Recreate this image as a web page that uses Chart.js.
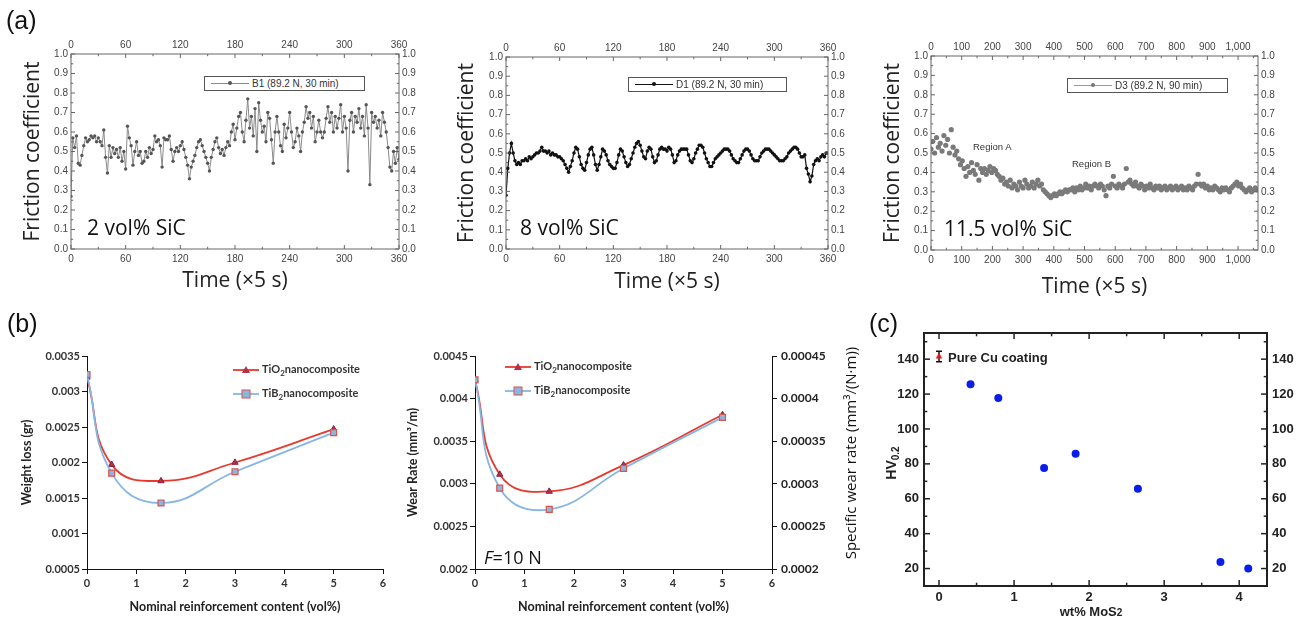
<!DOCTYPE html>
<html>
<head>
<meta charset="utf-8">
<script src="https://cdn.jsdelivr.net/npm/chart.js@4.4.0/dist/chart.umd.min.js"></script>
<style>
  body { margin: 0; background: #fff; }
  #page { position: relative; width: 1305px; height: 624px; overflow: hidden; font-family: "Liberation Sans", Arial, sans-serif; }
  canvas { position: absolute; }
  .txt { position: absolute; white-space: nowrap; }
  .panel { font-size: 25px; color: #111; line-height: 28px; }
  .sic { font-family: "Open Sans", sans-serif; font-size: 21px; color: #111; line-height: 24px; }
  .lg { position: absolute; border: 1px solid #555; box-sizing: border-box; font-size: 10px; color: #333; background: #fff; }
  .lg .ln { position: absolute; left: 6px; top: 6px; width: 38px; height: 1px; }
  .lg .dt { position: absolute; left: 23px; top: 4px; width: 4px; height: 4px; border-radius: 50%; }
  .lg .tx { position: absolute; left: 47px; top: 0; line-height: 13px; }
  .region { font-size: 9.5px; color: #333; }
  .blg { position: absolute; font-family: Lato, sans-serif; font-weight: bold; font-size: 11px; color: #333; white-space: nowrap; line-height: 14px; }
  .blg svg { vertical-align: middle; margin-right: 3px; }
  .blg sub { font-size: 8px; vertical-align: -3px; line-height: 0; }
  .rot { position: absolute; white-space: nowrap; transform: translate(-50%, -50%) rotate(-90deg); }
</style>
</head>
<body>
<div id="page">
  <canvas id="a1" width="420" height="278" style="left:12px;top:25px"></canvas>
  <canvas id="a2" width="415" height="278" style="left:445px;top:25px"></canvas>
  <canvas id="a3" width="432" height="283" style="left:868px;top:25px"></canvas>
  <canvas id="b1" width="385" height="284" style="left:15px;top:340px"></canvas>
  <canvas id="b2" width="455" height="284" style="left:405px;top:340px"></canvas>
  <canvas id="c" width="435" height="304" style="left:870px;top:320px"></canvas>

  <div class="txt panel" style="left:6px;top:6px">(a)</div>
  <div class="txt panel" style="left:7px;top:309px">(b)</div>
  <div class="txt panel" style="left:869px;top:309px">(c)</div>

  <div class="txt sic" style="left:87px;top:215px">2 vol% SiC</div>
  <div class="txt sic" style="left:520px;top:215px">8 vol% SiC</div>
  <div class="txt sic" style="left:944px;top:216px">11.5 vol% SiC</div>

  <div class="lg" style="left:204px;top:76px;width:161px;height:15px">
    <span class="ln" style="background:#888"></span><span class="dt" style="background:#555"></span>
    <span class="tx">B1 (89.2 N, 30 min)</span>
  </div>
  <div class="lg" style="left:628px;top:77px;width:159px;height:15px">
    <span class="ln" style="background:#111"></span><span class="dt" style="background:#111"></span>
    <span class="tx">D1 (89.2 N, 30 min)</span>
  </div>
  <div class="lg" style="left:1067px;top:78px;width:161px;height:15px">
    <span class="ln" style="background:#999"></span><span class="dt" style="background:#777"></span>
    <span class="tx">D3 (89.2 N, 90 min)</span>
  </div>
  <div class="txt region" style="left:973px;top:141px">Region A</div>
  <div class="txt region" style="left:1072px;top:158px">Region B</div>

  <div class="blg" style="left:233px;top:362px"><svg width="26" height="10"><line x1="0" y1="5" x2="26" y2="5" stroke="#e8392f" stroke-width="1.8"/><polygon points="13,1 17,8 9,8" fill="#b33048"/></svg>TiO<sub>2</sub>nanocomposite</div>
  <div class="blg" style="left:233px;top:386px"><svg width="26" height="10"><line x1="0" y1="5" x2="26" y2="5" stroke="#86b6e3" stroke-width="1.8"/><rect x="9" y="1" width="8" height="8" fill="#8db6df" stroke="#d9534f" stroke-width="1"/></svg>TiB<sub>2</sub>nanocomposite</div>
  <div class="blg" style="left:505px;top:359px"><svg width="26" height="10"><line x1="0" y1="5" x2="26" y2="5" stroke="#e8392f" stroke-width="1.8"/><polygon points="13,1 17,8 9,8" fill="#b33048"/></svg>TiO<sub>2</sub>nanocomposite</div>
  <div class="blg" style="left:505px;top:383px"><svg width="26" height="10"><line x1="0" y1="5" x2="26" y2="5" stroke="#86b6e3" stroke-width="1.8"/><rect x="9" y="1" width="8" height="8" fill="#8db6df" stroke="#d9534f" stroke-width="1"/></svg>TiB<sub>2</sub>nanocomposite</div>
  <div class="txt" style="left:484px;top:545px;font-family:'Open Sans';font-size:18px;color:#111;line-height:24px"><i>F</i>=10 N</div>
  <div class="rot" style="left:850px;top:453px;font-family:'Open Sans';font-size:15px;color:#111">Specific wear rate (mm³/(N·m))</div>

  <div class="txt" style="left:948px;top:350px;font-weight:bold;font-size:13px;color:#222">Pure Cu coating</div>
  <div class="rot" style="left:892px;top:463px;font-weight:bold;font-size:14px;color:#222">HV<sub style="font-size:10px">0.2</sub></div>
  <div class="txt" style="left:1091px;top:604px;transform:translateX(-50%);font-weight:bold;font-size:13px;color:#222">wt% MoS<span style="font-size:10px">2</span></div>
</div>

<script>
// (a) friction coefficient traces, one value every step along Time (x5 s)
const a1Step = 2;
const a1Friction = [
  0.27, 0.57, 0.52, 0.58, 0.44, 0.43, 0.48, 0.53, 0.57, 0.55,
  0.56, 0.58, 0.57, 0.58, 0.55, 0.57, 0.55, 0.53, 0.61, 0.47,
  0.39, 0.53, 0.47, 0.52, 0.49, 0.51, 0.47, 0.52, 0.45, 0.50,
  0.41, 0.63, 0.57, 0.53, 0.43, 0.50, 0.55, 0.48, 0.50, 0.44,
  0.45, 0.50, 0.47, 0.52, 0.49, 0.51, 0.58, 0.55, 0.56, 0.53,
  0.42, 0.57, 0.56, 0.56, 0.58, 0.51, 0.45, 0.50, 0.52, 0.50,
  0.53, 0.55, 0.51, 0.47, 0.43, 0.36, 0.42, 0.45, 0.48, 0.52,
  0.55, 0.56, 0.53, 0.50, 0.47, 0.44, 0.40, 0.47, 0.51, 0.55,
  0.57, 0.52, 0.49, 0.51, 0.48, 0.52, 0.55, 0.53, 0.60, 0.64,
  0.56, 0.62, 0.68, 0.70, 0.60, 0.55, 0.66, 0.77, 0.62, 0.68,
  0.58, 0.72, 0.50, 0.75, 0.66, 0.60, 0.63, 0.55, 0.70, 0.67,
  0.56, 0.44, 0.60, 0.68, 0.60, 0.53, 0.50, 0.64, 0.57, 0.62,
  0.70, 0.60, 0.52, 0.55, 0.62, 0.58, 0.50, 0.60, 0.65, 0.73,
  0.67, 0.70, 0.62, 0.68, 0.55, 0.60, 0.66, 0.60, 0.57, 0.60,
  0.67, 0.73, 0.65, 0.70, 0.60, 0.68, 0.62, 0.67, 0.74, 0.60,
  0.68, 0.62, 0.40, 0.66, 0.70, 0.60, 0.68, 0.65, 0.72, 0.62,
  0.68, 0.58, 0.74, 0.62, 0.33, 0.70, 0.65, 0.68, 0.62, 0.66,
  0.58, 0.70, 0.65, 0.60, 0.52, 0.42, 0.40, 0.50, 0.44, 0.52,
  0.46
];
const a2Step = 2;
const a2Friction = [
  0.28, 0.42, 0.50, 0.55, 0.50, 0.46, 0.44, 0.45, 0.44, 0.46,
  0.46, 0.47, 0.46, 0.48, 0.47, 0.48, 0.49, 0.50, 0.50, 0.51,
  0.53, 0.51, 0.51, 0.50, 0.51, 0.49, 0.50, 0.49, 0.49, 0.48,
  0.48, 0.47, 0.46, 0.44, 0.42, 0.40, 0.43, 0.46, 0.50, 0.53,
  0.52, 0.48, 0.44, 0.42, 0.41, 0.45, 0.49, 0.52, 0.53, 0.49,
  0.44, 0.41, 0.44, 0.48, 0.52, 0.51, 0.49, 0.46, 0.44, 0.43,
  0.42, 0.42, 0.45, 0.49, 0.52, 0.51, 0.48, 0.45, 0.43, 0.44,
  0.47, 0.50, 0.53, 0.55, 0.56, 0.54, 0.51, 0.48, 0.47, 0.51,
  0.53, 0.52, 0.48, 0.45, 0.46, 0.49, 0.52, 0.53, 0.52, 0.52,
  0.51, 0.53, 0.52, 0.49, 0.45, 0.46, 0.49, 0.51, 0.52, 0.52,
  0.52, 0.52, 0.49, 0.46, 0.45, 0.47, 0.50, 0.52, 0.54, 0.54,
  0.53, 0.50, 0.47, 0.45, 0.43, 0.43, 0.45, 0.47, 0.48, 0.49,
  0.50, 0.51, 0.52, 0.52, 0.52, 0.51, 0.49, 0.47, 0.46, 0.45,
  0.45, 0.47, 0.49, 0.51, 0.52, 0.52, 0.51, 0.49, 0.47, 0.46,
  0.46, 0.46, 0.48, 0.50, 0.51, 0.52, 0.52, 0.52, 0.51, 0.50,
  0.49, 0.48, 0.47, 0.46, 0.46, 0.46, 0.47, 0.48, 0.50, 0.51,
  0.52, 0.53, 0.53, 0.52, 0.50, 0.48, 0.48, 0.49, 0.42, 0.39,
  0.35, 0.38, 0.44, 0.46, 0.47, 0.46, 0.48, 0.49, 0.48, 0.50,
  0.50
];
const a3Step = 6;
const a3Friction = [
  0.52, 0.56, 0.50, 0.58, 0.53, 0.55, 0.51, 0.59, 0.54, 0.57,
  0.50, 0.62, 0.53, 0.49, 0.51, 0.47, 0.44, 0.46, 0.42, 0.38,
  0.43, 0.40, 0.45, 0.41, 0.39, 0.44, 0.36, 0.42, 0.40, 0.42,
  0.39, 0.41, 0.43, 0.40, 0.42, 0.41, 0.39, 0.38, 0.36, 0.37,
  0.34, 0.35, 0.33, 0.36, 0.32, 0.34, 0.33, 0.31, 0.35, 0.33,
  0.32, 0.36, 0.34, 0.32, 0.33, 0.35, 0.32, 0.34, 0.36, 0.33,
  0.34, 0.31, 0.30, 0.29, 0.28, 0.27, 0.28, 0.29, 0.28, 0.29,
  0.30, 0.29, 0.30, 0.31, 0.30, 0.31, 0.31, 0.32, 0.30, 0.32,
  0.31, 0.33, 0.31, 0.32, 0.34, 0.32, 0.33, 0.31, 0.33, 0.34,
  0.33, 0.32, 0.34, 0.33, 0.31, 0.28, 0.33, 0.32, 0.34, 0.38,
  0.33, 0.32, 0.34, 0.33, 0.32, 0.34, 0.42, 0.35, 0.36, 0.34,
  0.33, 0.35, 0.33, 0.32, 0.34, 0.33, 0.31, 0.33, 0.32, 0.34,
  0.32, 0.31, 0.33, 0.32, 0.33, 0.31, 0.32, 0.33, 0.31, 0.32,
  0.33, 0.31, 0.32, 0.33, 0.31, 0.32, 0.33, 0.31, 0.32, 0.31,
  0.33, 0.32, 0.31, 0.33, 0.34, 0.39, 0.34, 0.33, 0.34, 0.32,
  0.33, 0.31, 0.32, 0.31, 0.33, 0.32, 0.31, 0.30, 0.32, 0.31,
  0.32, 0.31, 0.30, 0.32, 0.33, 0.34, 0.35, 0.33, 0.34, 0.32,
  0.31, 0.30, 0.31, 0.32, 0.30, 0.31, 0.32, 0.31
];
const frictionTicks = [0, 0.1, 0.2, 0.3, 0.4, 0.5, 0.6, 0.7, 0.8, 0.9, 1.0];
const time360Ticks = [0, 60, 120, 180, 240, 300, 360];
const time1065Ticks = [0, 100, 200, 300, 400, 500, 600, 700, 800, 900, 1000];

// (b) wear of nanocomposites
const reinforcement = [0, 0.5, 1.5, 3, 5];
const b1TiO2 = [0.0032, 0.00197, 0.00174, 0.0020, 0.00247];
const b1TiB2 = [0.00324, 0.00185, 0.00143, 0.00187, 0.00242];
const b2TiO2 = [0.00422, 0.00311, 0.00291, 0.00322, 0.00381];
const b2TiB2 = [0.00422, 0.00295, 0.0027, 0.00318, 0.00378];
const volTicks = [0, 1, 2, 3, 4, 5, 6];
const lossTicks = [0.0005, 0.001, 0.0015, 0.002, 0.0025, 0.003, 0.0035];
const rateTicks = [0.002, 0.0025, 0.003, 0.0035, 0.004, 0.0045];
const specTicks = [0.0002, 0.00025, 0.0003, 0.00035, 0.0004, 0.00045];

// (c) hardness vs MoS2 content
const mos2 = [0.42, 0.79, 1.40, 1.82, 2.65, 3.75, 4.12];
const hv = [125.6, 117.8, 77.7, 85.8, 65.8, 23.8, 20];
const cuMos2 = [0];
const cuHv = [141.5];
const cuErr = [3];
const mos2Ticks = [0, 1, 2, 3, 4];
const hvTicks = [20, 40, 60, 80, 100, 120, 140];

function fixedTicks(list) { return s => { s.ticks = list.map(v => ({ value: v })); }; }
function fitW(w) { return s => { s.width = w; }; }
function fitH(h) { return s => { s.height = h; }; }
function toPoints(vals, step) { return vals.map((y, i) => ({ x: i * step, y })); }

// box frame + inward major/minor tick marks
const frameTicks = {
  id: 'frameTicks',
  afterDraw(chart, args, o) {
    const { ctx, chartArea: a } = chart;
    ctx.save();
    ctx.strokeStyle = o.color;
    ctx.lineWidth = o.width;
    ctx.strokeRect(a.left, a.top, a.right - a.left, a.bottom - a.top);
    ctx.lineWidth = o.tickWidth;
    o.sides.forEach(sd => {
      const s = chart.scales[sd.scale];
      const start = Math.ceil((s.min - 1e-9) / sd.minor) * sd.minor;
      for (let k = 0; start + k * sd.minor <= s.max + 1e-9; k++) {
        const v = start + k * sd.minor;
        const r = v / sd.major;
        const len = Math.abs(r - Math.round(r)) < 1e-6 ? o.len : o.len * 0.55;
        const p = s.getPixelForValue(v);
        ctx.beginPath();
        if (sd.side === 'bottom') { ctx.moveTo(p, a.bottom); ctx.lineTo(p, a.bottom - len); }
        else if (sd.side === 'top') { ctx.moveTo(p, a.top); ctx.lineTo(p, a.top + len); }
        else if (sd.side === 'left') { ctx.moveTo(a.left, p); ctx.lineTo(a.left + len, p); }
        else { ctx.moveTo(a.right, p); ctx.lineTo(a.right - len, p); }
        ctx.stroke();
      }
    });
    ctx.restore();
  }
};

const cuErrorBar = {
  id: 'cuErrorBar',
  beforeDatasetsDraw(chart) {
    const { ctx, scales: { x, y } } = chart;
    ctx.save();
    ctx.strokeStyle = '#111';
    ctx.lineWidth = 1.5;
    cuMos2.forEach((m, i) => {
      const px = x.getPixelForValue(m);
      const top = y.getPixelForValue(cuHv[i] + cuErr[i]);
      const bot = y.getPixelForValue(cuHv[i] - cuErr[i]);
      ctx.beginPath();
      ctx.moveTo(px, top); ctx.lineTo(px, bot);
      ctx.moveTo(px - 3, top); ctx.lineTo(px + 3, top);
      ctx.moveTo(px - 3, bot); ctx.lineTo(px + 3, bot);
      ctx.stroke();
    });
    ctx.restore();
  }
};

const noGrid = { display: false, drawTicks: false };
const noBorder = { display: false };

function frictionChart(id, cfg) {
  const tf = { family: 'Liberation Sans', size: 10 };
  const titleFont = { family: 'Open Sans', size: 21 };
  const xTicks = { color: '#444', font: tf, padding: 4, autoSkip: false, maxRotation: 0, callback: v => v.toLocaleString('en-US') };
  const yTicks = { color: '#444', font: tf, padding: 3, autoSkip: false, callback: v => v.toFixed(1) };
  new Chart(document.getElementById(id), {
    type: 'scatter',
    data: {
      datasets: [{
        data: toPoints(cfg.values, cfg.step),
        showLine: cfg.line,
        borderColor: cfg.lineColor,
        borderWidth: cfg.lineWidth,
        pointRadius: cfg.radius,
        pointBackgroundColor: cfg.dotColor,
        pointBorderWidth: 0
      }]
    },
    options: {
      responsive: false,
      animation: false,
      layout: { padding: 0 },
      plugins: {
        legend: { display: false },
        tooltip: { enabled: false },
        frameTicks: {
          color: '#666', width: 1, tickWidth: 1, len: 4,
          sides: [
            { scale: 'x', side: 'bottom', major: cfg.xMajor, minor: cfg.xMajor / 2 },
            { scale: 'x', side: 'top', major: cfg.xMajor, minor: cfg.xMajor / 2 },
            { scale: 'y', side: 'left', major: 0.1, minor: 0.05 },
            { scale: 'y', side: 'right', major: 0.1, minor: 0.05 }
          ]
        }
      },
      scales: {
        x: {
          type: 'linear', position: 'bottom', min: 0, max: cfg.xmax,
          grid: noGrid, border: noBorder, ticks: xTicks,
          afterBuildTicks: fixedTicks(cfg.xTickList), afterFit: fitH(cfg.box[3]),
          title: { display: true, text: 'Time (×5 s)', font: titleFont, color: '#222', padding: { top: 0, bottom: cfg.titlePad[1] } }
        },
        x2: {
          type: 'linear', position: 'top', min: 0, max: cfg.xmax,
          grid: noGrid, border: noBorder, ticks: Object.assign({}, xTicks, { padding: 3 }),
          afterBuildTicks: fixedTicks(cfg.xTickList), afterFit: fitH(cfg.box[2])
        },
        y: {
          type: 'linear', position: 'left', min: 0, max: 1,
          grid: noGrid, border: noBorder, ticks: yTicks,
          afterBuildTicks: fixedTicks(frictionTicks), afterFit: fitW(cfg.box[0]),
          title: { display: true, text: 'Friction coefficient', font: titleFont, color: '#222', padding: { top: cfg.titlePad[0], bottom: 0 } }
        },
        y2: {
          type: 'linear', position: 'right', min: 0, max: 1,
          grid: noGrid, border: noBorder, ticks: yTicks,
          afterBuildTicks: fixedTicks(frictionTicks), afterFit: fitW(cfg.box[1])
        }
      }
    },
    plugins: [frameTicks]
  });
}

frictionChart('a1', {
  values: a1Friction, step: a1Step, line: true, lineColor: '#8a8a8a', lineWidth: 1, radius: 1.7, dotColor: '#555',
  xmax: 360, xTickList: time360Ticks, xMajor: 60, box: [59, 33, 29, 54], titlePad: [8, 9]
});
frictionChart('a2', {
  values: a2Friction, step: a2Step, line: true, lineColor: '#111', lineWidth: 1.2, radius: 1.8, dotColor: '#111',
  xmax: 360, xTickList: time360Ticks, xMajor: 60, box: [61, 32, 32, 54], titlePad: [9, 8]
});
frictionChart('a3', {
  values: a3Friction, step: a3Step, line: false, lineColor: '#777', lineWidth: 0, radius: 2.6, dotColor: '#7a7a7a',
  xmax: 1065, xTickList: time1065Ticks, xMajor: 100, box: [63, 42, 31, 58], titlePad: [12, 8]
});

function wearChart(id, cfg) {
  const tf = { family: 'Lato', size: 11, weight: 'bold' };
  const titleFont = { family: 'Lato', size: 12.5, weight: 'bold' };
  const outGrid = { display: true, drawOnChartArea: false, drawTicks: true, tickLength: 5, color: '#111', lineWidth: 1 };
  const blackBorder = { display: true, color: '#111', width: 1 };
  const scales = {
    x: {
      type: 'linear', position: 'bottom', min: 0, max: 6,
      grid: outGrid, border: blackBorder,
      ticks: { color: '#333', font: tf, padding: 3, autoSkip: false, maxRotation: 0 },
      afterBuildTicks: fixedTicks(volTicks), afterFit: fitH(55),
      title: { display: true, text: 'Nominal reinforcement content (vol%)', font: titleFont, color: '#222', padding: { top: 2, bottom: 10 } }
    },
    y: {
      type: 'linear', position: 'left', min: cfg.yRange[0], max: cfg.yRange[1],
      grid: outGrid, border: blackBorder,
      ticks: { color: '#333', font: tf, padding: 2, autoSkip: false, callback: v => String(+v.toFixed(5)) },
      afterBuildTicks: fixedTicks(cfg.yTickList), afterFit: fitW(cfg.leftW),
      title: { display: true, text: cfg.yTitle, font: titleFont, color: '#222', padding: { top: cfg.yTitlePad, bottom: 0 } }
    }
  };
  if (cfg.y2TickList) {
    scales.y2 = {
      type: 'linear', position: 'right', min: cfg.y2Range[0], max: cfg.y2Range[1],
      grid: outGrid, border: blackBorder,
      ticks: { color: '#222', font: { family: 'Lato', size: 12, weight: 'bold' }, padding: 4, autoSkip: false, callback: v => String(+v.toFixed(5)) },
      afterBuildTicks: fixedTicks(cfg.y2TickList), afterFit: fitW(cfg.rightW)
    };
  }
  new Chart(document.getElementById(id), {
    type: 'scatter',
    data: {
      datasets: [
        {
          label: 'TiB2 nanocomposite',
          data: reinforcement.map((x, i) => ({ x, y: cfg.tib2[i] })),
          showLine: true, tension: 0.45,
          borderColor: '#86b6e3', borderWidth: 1.8,
          pointStyle: 'rect', pointRadius: 4.2,
          pointBackgroundColor: '#8db6df', pointBorderColor: '#d9534f', pointBorderWidth: 1.2
        },
        {
          label: 'TiO2 nanocomposite',
          data: reinforcement.map((x, i) => ({ x, y: cfg.tio2[i] })),
          showLine: true, tension: 0.45,
          borderColor: '#e8392f', borderWidth: 1.8,
          pointStyle: 'triangle', pointRadius: 3.6,
          pointBackgroundColor: '#b33048', pointBorderColor: '#8b2040', pointBorderWidth: 1
        }
      ]
    },
    options: {
      responsive: false,
      animation: false,
      layout: { padding: { top: 16, right: cfg.rightPad, left: 0, bottom: 0 } },
      plugins: { legend: { display: false }, tooltip: { enabled: false } },
      scales
    }
  });
}

wearChart('b1', {
  tio2: b1TiO2, tib2: b1TiB2, yRange: [0.0005, 0.0035], yTickList: lossTicks,
  yTitle: 'Weight loss (gr)', yTitlePad: 4, leftW: 72, rightPad: 17
});
wearChart('b2', {
  tio2: b2TiO2, tib2: b2TiB2, yRange: [0.002, 0.0045], yTickList: rateTicks,
  yTitle: 'Wear Rate (mm³/m)', yTitlePad: 0, leftW: 70, rightPad: 0,
  y2Range: [0.0002, 0.00045], y2TickList: specTicks, rightW: 88
});

// (c)
(function () {
  const tf = { family: 'Liberation Sans', size: 13, weight: 'bold' };
  const hvAxis = pos => ({
    type: 'linear', position: pos, min: 10, max: 155,
    grid: noGrid, border: noBorder,
    ticks: { color: '#222', font: tf, padding: 5, autoSkip: false },
    afterBuildTicks: fixedTicks(hvTicks), afterFit: fitW(pos === 'left' ? 54 : 38)
  });
  new Chart(document.getElementById('c'), {
    type: 'scatter',
    data: {
      datasets: [
        {
          label: 'Pure Cu coating',
          data: cuMos2.map((x, i) => ({ x, y: cuHv[i] })),
          pointStyle: 'triangle', pointRadius: 3.8,
          pointBackgroundColor: '#e41a1c', pointBorderColor: '#e41a1c', pointBorderWidth: 0
        },
        {
          label: 'Cu-MoS2',
          data: mos2.map((x, i) => ({ x, y: hv[i] })),
          pointRadius: 4,
          pointBackgroundColor: '#0b1ee8', pointBorderColor: '#0b1ee8', pointBorderWidth: 0
        }
      ]
    },
    options: {
      responsive: false,
      animation: false,
      layout: { padding: { top: 13, left: 0, right: 0, bottom: 0 } },
      plugins: {
        legend: { display: false },
        tooltip: { enabled: false },
        frameTicks: {
          color: '#222', width: 2, tickWidth: 1.5, len: 6,
          sides: [
            { scale: 'x', side: 'bottom', major: 1, minor: 0.5 },
            { scale: 'x', side: 'top', major: 1, minor: 0.5 },
            { scale: 'y', side: 'left', major: 20, minor: 10 },
            { scale: 'y', side: 'right', major: 20, minor: 10 }
          ]
        }
      },
      scales: {
        x: {
          type: 'linear', position: 'bottom', min: -0.2, max: 4.37,
          grid: noGrid, border: noBorder,
          ticks: { color: '#222', font: tf, padding: 4, autoSkip: false, maxRotation: 0 },
          afterBuildTicks: fixedTicks(mos2Ticks), afterFit: fitH(38)
        },
        y: hvAxis('left'),
        y2: hvAxis('right')
      }
    },
    plugins: [frameTicks, cuErrorBar]
  });
})();
</script>
</body>
</html>
